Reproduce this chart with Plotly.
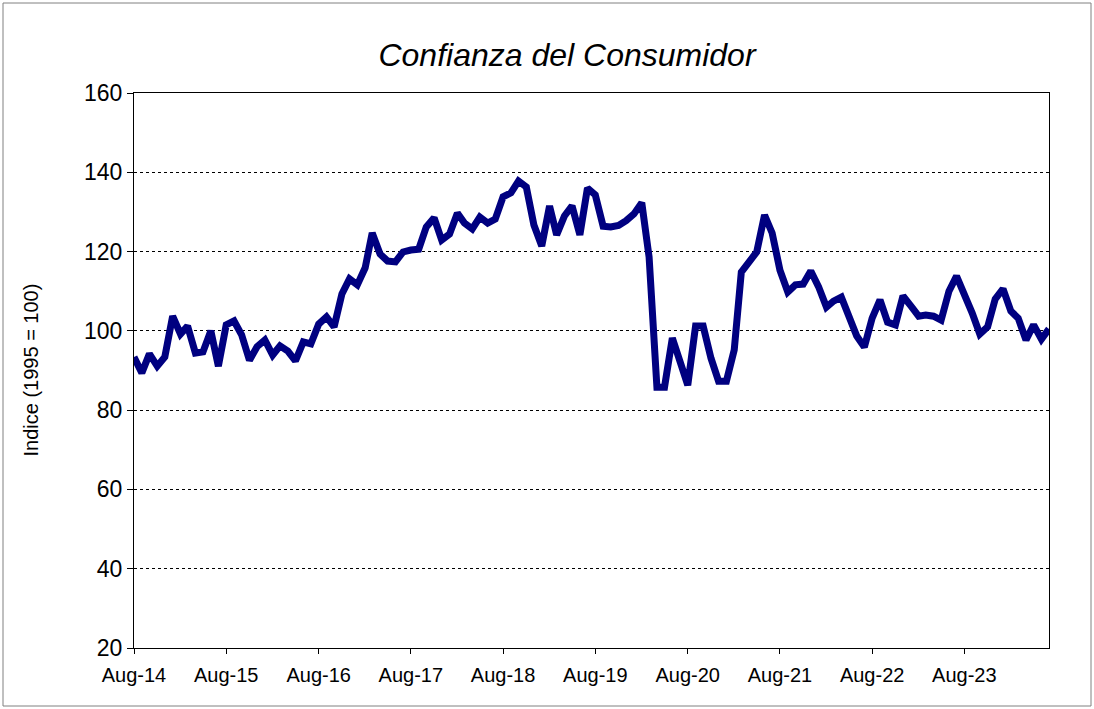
import plotly.graph_objects as go
import pandas as pd

values = [
    93.4, 89.4, 94.2, 91.1, 93.4, 103.7, 99.2, 101.2, 94.4, 94.7, 100.0, 91.1,
    101.5, 102.5, 99.0, 92.6, 96.0, 97.7, 93.9, 96.2, 94.9, 92.4, 97.2, 96.7,
    101.7, 103.5, 101.0, 109.3, 113.1, 111.6, 115.9, 124.7, 119.4, 117.6, 117.4, 119.9,
    120.4, 120.6, 126.2, 128.5, 122.9, 124.4, 129.7, 127.2, 125.7, 128.7, 127.2, 128.2,
    133.8, 134.8, 137.8, 136.3, 126.7, 121.4, 131.5, 124.2, 129.0, 131.5, 124.2, 136.0,
    134.3, 126.4, 126.2, 126.6, 127.8, 129.5, 132.3, 118.6, 85.8, 85.8, 98.2, 92.4,
    86.3, 101.2, 101.2, 93.1, 87.3, 87.3, 95.2, 114.8, 117.4, 119.9, 129.2, 124.7,
    115.3, 109.8, 111.6, 111.8, 115.1, 111.1, 106.0, 107.5, 108.5, 103.5, 98.7, 95.9,
    103.2, 107.8, 102.2, 101.5, 108.8, 106.3, 103.7, 104.0, 103.7, 102.7, 110.0, 113.8,
    109.3, 104.5, 99.2, 101.0, 108.0, 110.6, 105.0, 103.2, 97.7, 101.5, 97.9, 100.5,
]
dates = pd.date_range("2014-08-01", periods=len(values), freq="MS")

tick_dates = pd.date_range("2014-08-01", "2023-08-01", freq="12MS")
tick_labels = ["Aug-14", "Aug-15", "Aug-16", "Aug-17", "Aug-18",
               "Aug-19", "Aug-20", "Aug-21", "Aug-22", "Aug-23"]
y_ticks = [20, 40, 60, 80, 100, 120, 140, 160]

W, H = 1094, 709
L, R, T, B = 134, 45, 93, 61
pw, ph = W - L - R, H - T - B

fig = go.Figure()
fig.add_trace(go.Scatter(x=dates, y=values, mode="lines",
                         line=dict(color="#000080", width=7), showlegend=False,
                         hoverinfo="x+y"))

font = "Liberation Sans, Arial, sans-serif"
fig.update_layout(
    width=W, height=H,
    margin=dict(l=L, r=R, t=T, b=B),
    paper_bgcolor="white", plot_bgcolor="white",
    font=dict(family=font, color="black"),
    title=dict(text="<i>Confianza del Consumidor</i>", x=567 / W, xanchor="center",
               y=1 - 55 / H, yanchor="middle", font=dict(size=32, family=font, color="black")),
    xaxis=dict(
        type="date",
        range=[dates[0], dates[-1]],
        tickvals=list(tick_dates), ticktext=tick_labels,
        ticks="outside", ticklen=5, tickcolor="black", tickwidth=1,
        ticklabelstandoff=4,
        showline=True, linecolor="black", linewidth=1, mirror=True,
        showgrid=False, zeroline=False,
        tickfont=dict(size=20, family=font),
    ),
    yaxis=dict(
        range=[20, 160], tickvals=y_ticks,
        ticks="outside", ticklen=6, tickcolor="black", tickwidth=1,
        showline=True, linecolor="black", linewidth=1, mirror=True,
        showgrid=True, gridcolor="black", gridwidth=1, griddash="dot",
        zeroline=False,
        tickfont=dict(size=23, family=font),
    ),
    annotations=[dict(text="Indice (1995 = 100)", textangle=-90,
                      xref="paper", yref="paper", x=(30 - L) / pw, y=0.5,
                      xanchor="center", yanchor="middle", showarrow=False,
                      font=dict(size=20, family=font, color="black"))],
    shapes=[dict(type="rect", xref="paper", yref="paper",
                 x0=(3 - L) / pw, x1=(1091 - L) / pw,
                 y0=(H - B - 706) / ph, y1=(H - B - 3) / ph,
                 line=dict(color="#808080", width=1), layer="below")],
)

fig.write_html("out.html", config={"displayModeBar": False},
               post_script="document.body.style.margin='0';")
